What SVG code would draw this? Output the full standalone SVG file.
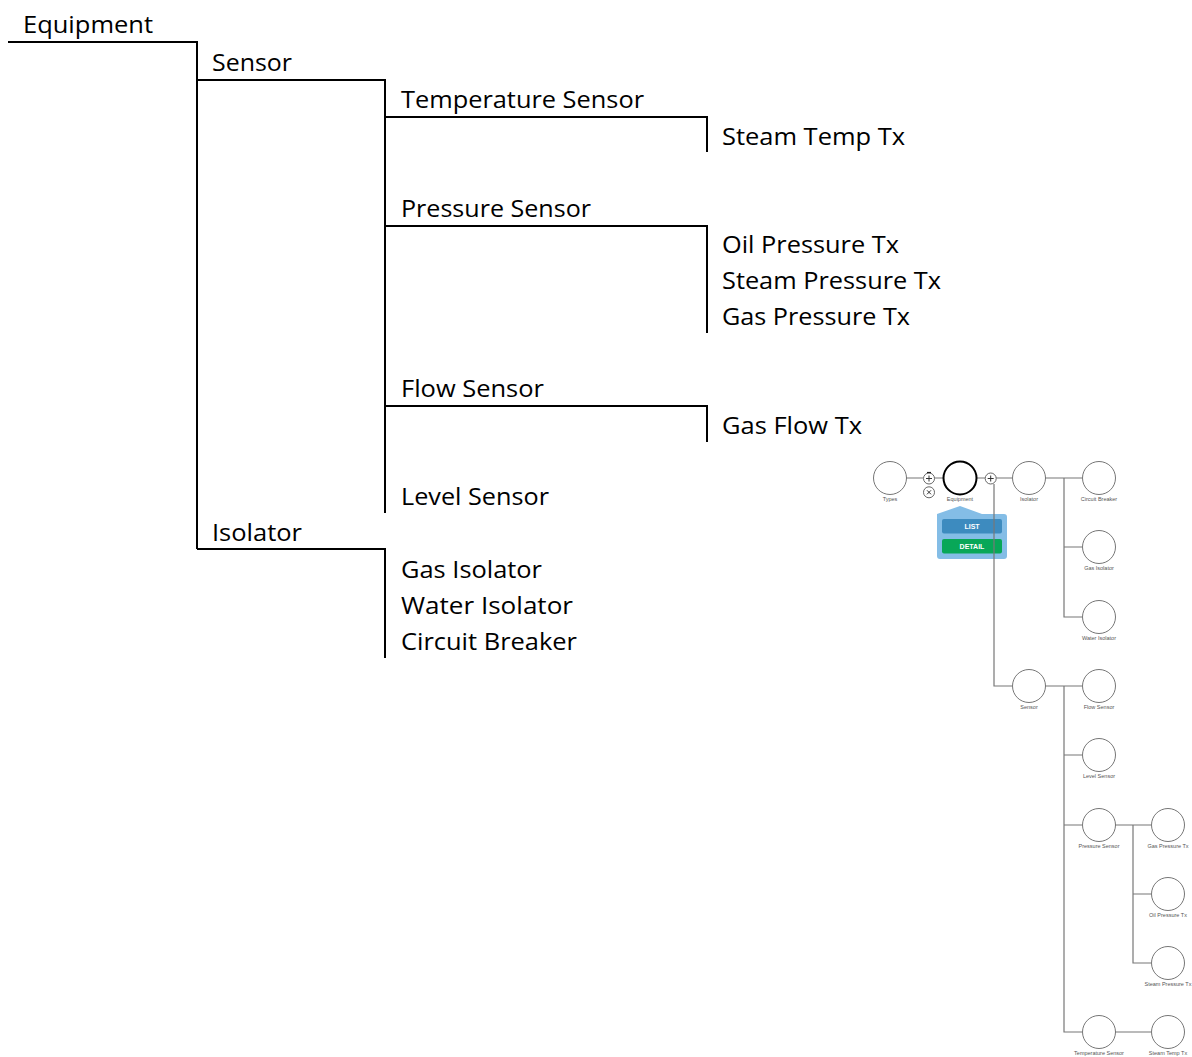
<svg xmlns="http://www.w3.org/2000/svg" width="1192" height="1057" viewBox="0 0 1192 1057">
<style>
.t{font-family:"Open Sans","Liberation Sans",sans-serif;font-size:24px;fill:#000}
.ln{fill:none;stroke:#000;stroke-width:2}
.sl{fill:none;stroke:#777;stroke-width:1.2}
.c{fill:#fff;stroke:#666;stroke-width:0.9}
.lb{font-family:"Liberation Sans",Arial,sans-serif;font-size:5.5px;fill:#555;text-anchor:middle}
.ic{fill:#fff;stroke:#666;stroke-width:1}
.bt{font-family:"Liberation Sans",Arial,sans-serif;font-size:7px;font-weight:bold;fill:#fff;text-anchor:middle}
</style>
<rect width="1192" height="1057" fill="#fff"/>
<g id="tree-connectors">
<path class="ln" d="M8 42H197V549"/>
<path class="ln" d="M197 80H385V513"/>
<path class="ln" d="M385 117H707V152"/>
<path class="ln" d="M385 226H707V333"/>
<path class="ln" d="M385 406H707V442"/>
<path class="ln" d="M197 549H385V658"/>
</g>
<g id="t-equipment"><text class="t" x="23" y="33" textLength="130" lengthAdjust="spacingAndGlyphs">Equipment</text></g>
<g id="t-sensor"><text class="t" x="212" y="71" textLength="80" lengthAdjust="spacingAndGlyphs">Sensor</text></g>
<g id="t-temperature-sensor"><text class="t" x="401" y="108" textLength="243" lengthAdjust="spacingAndGlyphs">Temperature Sensor</text></g>
<g id="t-steam-temp-tx"><text class="t" x="722" y="145" textLength="183" lengthAdjust="spacingAndGlyphs">Steam Temp Tx</text></g>
<g id="t-pressure-sensor"><text class="t" x="401" y="217" textLength="190" lengthAdjust="spacingAndGlyphs">Pressure Sensor</text></g>
<g id="t-oil-pressure-tx"><text class="t" x="722" y="253" textLength="177" lengthAdjust="spacingAndGlyphs">Oil Pressure Tx</text></g>
<g id="t-steam-pressure-tx"><text class="t" x="722" y="289" textLength="219" lengthAdjust="spacingAndGlyphs">Steam Pressure Tx</text></g>
<g id="t-gas-pressure-tx"><text class="t" x="722" y="325" textLength="188" lengthAdjust="spacingAndGlyphs">Gas Pressure Tx</text></g>
<g id="t-flow-sensor"><text class="t" x="401" y="397" textLength="143" lengthAdjust="spacingAndGlyphs">Flow Sensor</text></g>
<g id="t-gas-flow-tx"><text class="t" x="722" y="434" textLength="140" lengthAdjust="spacingAndGlyphs">Gas Flow Tx</text></g>
<g id="t-level-sensor"><text class="t" x="401" y="505" textLength="148" lengthAdjust="spacingAndGlyphs">Level Sensor</text></g>
<g id="t-isolator"><text class="t" x="212" y="541" textLength="90" lengthAdjust="spacingAndGlyphs">Isolator</text></g>
<g id="t-gas-isolator"><text class="t" x="401" y="578" textLength="141" lengthAdjust="spacingAndGlyphs">Gas Isolator</text></g>
<g id="t-water-isolator"><text class="t" x="401" y="614" textLength="172" lengthAdjust="spacingAndGlyphs">Water Isolator</text></g>
<g id="t-circuit-breaker"><text class="t" x="401" y="650" textLength="176" lengthAdjust="spacingAndGlyphs">Circuit Breaker</text></g>

<g id="graph-connectors">
<path class="sl" d="M906 478H923M934 478H943M976 478H985M996 478H1012"/>
<path class="sl" d="M1045 478H1082M1064 478V617H1082M1064 547H1082"/>
<path class="sl" d="M1045 686H1082M1064 686V1032H1082M1064 755H1082M1064 825H1082"/>
<path class="sl" d="M1115 825H1151M1133 825V963H1151M1133 894H1151"/>
<path class="sl" d="M1115 1032H1151"/>
</g>
<g id="popup">
<path d="M937 514L960 506L982 514H1004Q1007 514 1007 517V556Q1007 559 1004 559H940Q937 559 937 556Z" fill="#84bde6"/>
<rect x="942" y="519" width="60" height="14.5" rx="2" fill="#3d8bbf"/>
<text class="bt" x="972" y="529">LIST</text>
<rect x="942" y="539" width="60" height="14.5" rx="2" fill="#08a758"/>
<text class="bt" x="972" y="549">DETAIL</text>
</g>
<path class="sl" d="M994 484V686H1012"/>
<g id="n-types"><circle class="c" cx="890" cy="478" r="16.5"/><text class="lb" x="890" y="501">Types</text></g>
<g id="n-add-left"><circle class="ic" cx="929" cy="478.5" r="5.5"/><path d="M926 478.5H932M929 475.5V481.5" stroke="#333" stroke-width="1"/><path d="M927 472.5H931" stroke="#222" stroke-width="1.2"/></g>
<g id="n-remove"><circle class="ic" cx="929" cy="492.3" r="5.5"/><path d="M927 490.3L931 494.3M931 490.3L927 494.3" stroke="#333" stroke-width="1"/></g>
<g id="n-equipment"><circle cx="960" cy="478" r="16.5" fill="#fff" stroke="#000" stroke-width="2"/><text class="lb" x="960" y="501">Equipment</text></g>
<g id="n-add-right"><circle class="ic" cx="990.7" cy="478.5" r="5.5"/><path d="M987.7 478.5H993.7M990.7 475.5V481.5" stroke="#333" stroke-width="1"/></g>
<g id="n-isolator"><circle class="c" cx="1029" cy="478" r="16.5"/><text class="lb" x="1029" y="501">Isolator</text></g>
<g id="n-circuit-breaker"><circle class="c" cx="1099" cy="478" r="16.5"/><text class="lb" x="1099" y="501">Circuit Breaker</text></g>
<g id="n-gas-isolator"><circle class="c" cx="1099" cy="547" r="16.5"/><text class="lb" x="1099" y="570">Gas Isolator</text></g>
<g id="n-water-isolator"><circle class="c" cx="1099" cy="617" r="16.5"/><text class="lb" x="1099" y="640">Water Isolator</text></g>
<g id="n-sensor"><circle class="c" cx="1029" cy="686" r="16.5"/><text class="lb" x="1029" y="709">Sensor</text></g>
<g id="n-flow-sensor"><circle class="c" cx="1099" cy="686" r="16.5"/><text class="lb" x="1099" y="709">Flow Sensor</text></g>
<g id="n-level-sensor"><circle class="c" cx="1099" cy="755" r="16.5"/><text class="lb" x="1099" y="778">Level Sensor</text></g>
<g id="n-pressure-sensor"><circle class="c" cx="1099" cy="825" r="16.5"/><text class="lb" x="1099" y="848">Pressure Sensor</text></g>
<g id="n-gas-pressure-tx"><circle class="c" cx="1168" cy="825" r="16.5"/><text class="lb" x="1168" y="848">Gas Pressure Tx</text></g>
<g id="n-oil-pressure-tx"><circle class="c" cx="1168" cy="894" r="16.5"/><text class="lb" x="1168" y="917">Oil Pressure Tx</text></g>
<g id="n-steam-pressure-tx"><circle class="c" cx="1168" cy="963" r="16.5"/><text class="lb" x="1168" y="986">Steam Pressure Tx</text></g>
<g id="n-temperature-sensor"><circle class="c" cx="1099" cy="1032" r="16.5"/><text class="lb" x="1099" y="1055">Temperature Sensor</text></g>
<g id="n-steam-temp-tx"><circle class="c" cx="1168" cy="1032" r="16.5"/><text class="lb" x="1168" y="1055">Steam Temp Tx</text></g>
</svg>
